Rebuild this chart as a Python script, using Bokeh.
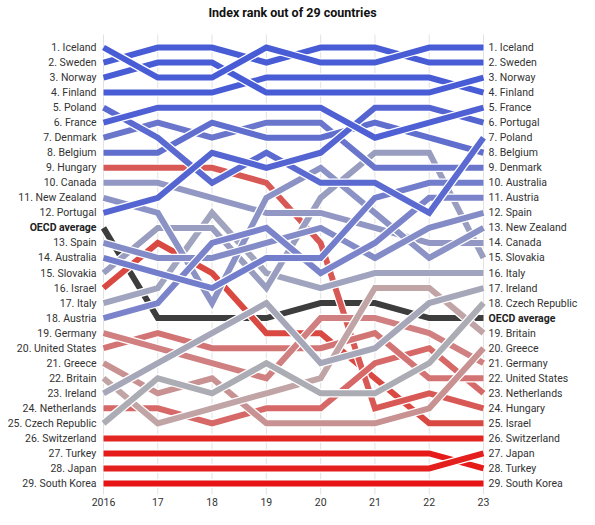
from bokeh.plotting import figure
from bokeh.models import Range1d
from bokeh.embed import file_html
from bokeh.resources import INLINE
from bokeh.core.properties import value

title_text = "Index rank out of 29 countries"
years = [2016, 2017, 2018, 2019, 2020, 2021, 2022, 2023]
year_labels = ["2016", "17", "18", "19", "20", "21", "22", "23"]

countries = ["Iceland", "Sweden", "Norway", "Finland", "Poland", "France", "Denmark",
             "Belgium", "Hungary", "Canada", "New Zealand", "Portugal", "Spain",
             "Australia", "Slovakia", "Israel", "Italy", "Austria", "Germany",
             "United States", "Greece", "Britain", "Ireland", "Netherlands",
             "Czech Republic", "Switzerland", "Turkey", "Japan", "South Korea"]

# rank of each country (same order as countries) per year
rank_2016 = [1, 2, 3, 4, 5, 6, 7, 8, 9, 10, 11, 12, 13, 14, 15, 16, 17, 18, 19, 20,
             21, 22, 23, 24, 25, 26, 27, 28, 29]
rank_2017 = [3, 1, 2, 4, 7, 5, 6, 8, 9, 10, 12, 11, 15, 16, 13, 14, 17, 18, 20, 19,
             23, 25, 21, 24, 22, 26, 27, 28, 29]
rank_2018 = [3, 1, 2, 4, 10, 5, 7, 6, 9, 11, 18, 8, 15, 17, 13, 16, 12, 14, 21, 20,
             22, 24, 19, 25, 23, 26, 27, 28, 29]
rank_2019 = [1, 2, 4, 3, 8, 5, 6, 7, 10, 12, 11, 9, 14, 15, 17, 19, 16, 13, 22, 20,
             25, 23, 18, 24, 21, 26, 27, 28, 29]
rank_2020 = [2, 1, 4, 3, 10, 5, 6, 7, 14, 12, 9, 8, 13, 15, 11, 19, 17, 16, 18, 20,
             25, 22, 21, 24, 23, 26, 27, 28, 29]
rank_2021 = [2, 1, 4, 3, 10, 7, 9, 6, 24, 13, 12, 5, 15, 11, 8, 22, 16, 14, 18, 19,
             25, 17, 20, 21, 23, 26, 27, 28, 29]
rank_2022 = [1, 2, 4, 3, 12, 6, 9, 7, 23, 14, 15, 5, 13, 10, 8, 25, 16, 11, 19, 22,
             24, 17, 18, 20, 21, 26, 27, 28, 29]
rank_2023 = [1, 2, 3, 4, 7, 5, 9, 8, 24, 14, 13, 6, 12, 10, 15, 25, 16, 11, 21, 22,
             20, 19, 17, 23, 18, 26, 28, 27, 29]
ranks = [rank_2016, rank_2017, rank_2018, rank_2019, rank_2020, rank_2021, rank_2022, rank_2023]

# number of countries ranked above the OECD average, per year
oecd_after = [12, 18, 18, 18, 17, 17, 18, 18]
oecd_label = "OECD average"

# ---- layout mapping (canvas pixels -> data) ----
W, H = 579, 509
X16, X23 = 103, 483          # canvas x of first / last year
S1, S30 = 47, 483            # canvas y of slot 1 / slot 30
PXY = 7 / float(X23 - X16)   # years per pixel
PSL = 29 / float(S30 - S1)   # slots per pixel
x_start = 2016 - X16 * PXY
y_top = 1 - S1 * PSL
p = figure(width=W, height=H, output_backend="svg", toolbar_location=None,
           x_range=Range1d(x_start, x_start + W * PXY),
           y_range=Range1d(y_top + H * PSL, y_top),
           x_axis_location=None, y_axis_location=None,
           min_border=0, min_border_left=0, min_border_right=0,
           min_border_top=0, min_border_bottom=0)
p.grid.visible = False
p.outline_line_color = None
p.background_fill_color = "white"


def slot(rank, yi):
    return rank if rank <= oecd_after[yi] else rank + 1


def cx(px):
    return x_start + px * PXY


def cy(px):
    return y_top + px * PSL


# grid lines
p.segment(x0=years, y0=[cy(34)] * len(years), x1=years,
          y1=[cy(494)] * len(years), line_color="#e2e2e2", line_width=1)

# colour by final rank
anchors = [(1, (72, 92, 214)), (4, (72, 92, 214)), (8, (96, 110, 206)),
           (12, (132, 140, 200)), (16, (160, 164, 190)), (18, (172, 172, 180)),
           (19, (192, 164, 166)), (21, (208, 128, 128)), (23, (214, 104, 104)),
           (25, (218, 72, 66)), (26, (226, 38, 34)), (29, (230, 20, 20))]


def colour(r):
    for (r0, c0), (r1, c1) in zip(anchors[:-1], anchors[1:]):
        if r0 <= r <= r1:
            t = 0 if r1 == r0 else (r - r0) / (r1 - r0)
            c = [round(a + (b - a) * t) for a, b in zip(c0, c1)]
            return "#%02x%02x%02x" % tuple(c)
    return "#888888"


font = value("Roboto")
fs = "10.5px"

# OECD line (underneath)
oecd_y = [n + 1 for n in oecd_after]
p.line(years, oecd_y, line_color="white", line_width=8.5, line_join="miter")
p.line(years, oecd_y, line_color="#3d3d3d", line_width=6, line_join="miter")

order = sorted(range(len(countries)), key=lambda i: -rank_2023[i])
for i in order:
    ys = [slot(ranks[k][i], k) for k in range(len(years))]
    p.line(years, ys, line_color="white", line_width=8.5, line_join="miter")
    p.line(years, ys, line_color=colour(rank_2023[i]), line_width=6, line_join="miter")

# left labels
lx = [2016 - 7 * PXY] * len(countries)
p.text(x=lx, y=[slot(r, 0) for r in rank_2016],
       text=["%d. %s" % (r, c) for r, c in zip(rank_2016, countries)],
       text_align="right", text_baseline="middle", text_font=font,
       text_font_size=fs, text_color="#333333")
rx = [2023 + 5 * PXY] * len(countries)
p.text(x=rx, y=[slot(r, 7) for r in rank_2023],
       text=["%d. %s" % (r, c) for r, c in zip(rank_2023, countries)],
       text_align="left", text_baseline="middle", text_font=font,
       text_font_size=fs, text_color="#333333")
p.text(x=[2016 - 7 * PXY], y=[oecd_y[0]], text=[oecd_label], text_align="right",
       text_baseline="middle", text_font=font, text_font_size=fs,
       text_font_style="bold", text_color="#222222")
p.text(x=[2023 + 5 * PXY], y=[oecd_y[-1]], text=[oecd_label], text_align="left",
       text_baseline="middle", text_font=font, text_font_size=fs,
       text_font_style="bold", text_color="#222222")

# year tick labels
p.text(x=years, y=[cy(501)] * len(years), text=year_labels,
       text_align="center", text_baseline="middle", text_font=font,
       text_font_size=fs, text_color="#333333")

# title
p.text(x=[cx(292)], y=[cy(12)], text=[title_text],
       text_align="center", text_baseline="middle", text_font=font,
       text_font_size="12.5px", text_font_style="bold", text_color="#111111")

open("out.html", "w").write(file_html(p, INLINE))
